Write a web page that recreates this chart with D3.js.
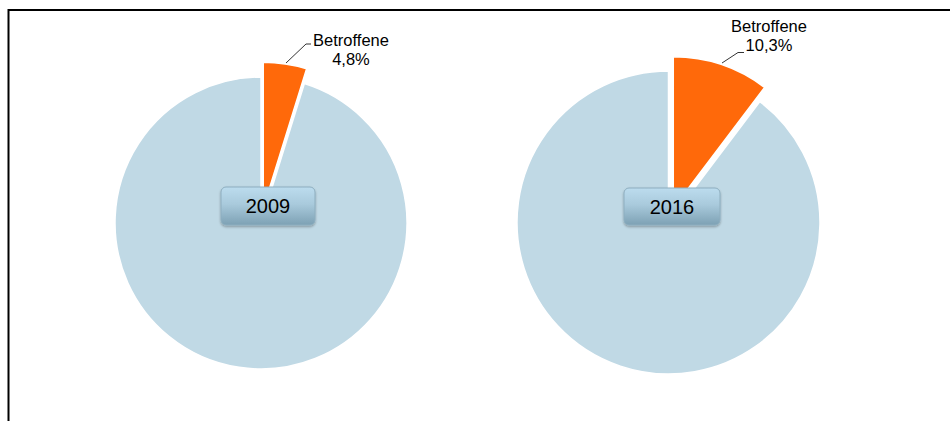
<!DOCTYPE html>
<html>
<head>
<meta charset="utf-8">
<script src="https://cdn.jsdelivr.net/npm/d3@7"></script>
<style>
  html, body { margin: 0; padding: 0; background: #fff; }
  svg { display: block; font-family: "Liberation Sans", Arial, sans-serif; }
</style>
</head>
<body>
<svg id="chart" width="950" height="421"></svg>
<script>
// ---- data ----
const years = ["2009", "2016"];
const betroffenePct = [4.8, 10.3];
const sliceLabel = "Betroffene";
const pctLabels = ["4,8%", "10,3%"];

// ---- layout ----
const W = 950, H = 421;
const pies = [
  { cx: 261, cy: 223, r: 146, box: { x: 221, y: 187, w: 94, h: 38 },
    label: { x: 351, y: 46 }, leader: [[286, 63], [306, 44], [311, 44]] },
  { cx: 668.5, cy: 222.5, r: 151.5, box: { x: 624, y: 188, w: 96, h: 37 },
    label: { x: 769, y: 32 }, leader: [[722, 63], [738, 52.5], [744, 52.5]] }
];
const explode = 15;
const colorMain = "#C0D9E5";
const colorHi = "#FF690A";

const svg = d3.select("#chart");

const defs = svg.append("defs");
const grad = defs.append("linearGradient").attr("id", "boxGrad")
  .attr("x1", 0).attr("y1", 0).attr("x2", 0).attr("y2", 1);
grad.append("stop").attr("offset", "0%").attr("stop-color", "#BCDCEE");
grad.append("stop").attr("offset", "45%").attr("stop-color", "#A9CADC");
grad.append("stop").attr("offset", "100%").attr("stop-color", "#7DA1B4");
const filt = defs.append("filter").attr("id", "shadow")
  .attr("x", "-20%").attr("y", "-20%").attr("width", "140%").attr("height", "160%");
filt.append("feDropShadow").attr("dx", 0).attr("dy", 1.5).attr("stdDeviation", 1.2)
  .attr("flood-color", "#000").attr("flood-opacity", 0.3);

// border
svg.append("path")
  .attr("d", d3.line()([[8.5, H], [8.5, 10], [W, 10]]))
  .attr("fill", "none").attr("stroke", "#000").attr("stroke-width", 2);

const pie = d3.pie().sort(null).value(d => d.v);

years.forEach((yr, i) => {
  const P = pies[i];
  const data = [
    { k: "hi", v: betroffenePct[i] },
    { k: "rest", v: 100 - betroffenePct[i] }
  ];
  const arcs = pie(data);
  const arc = d3.arc().innerRadius(0).outerRadius(P.r);
  const g = svg.append("g").attr("transform", `translate(${P.cx},${P.cy})`);

  g.selectAll("path").data(arcs.slice().reverse()).join("path")
    .attr("d", arc)
    .attr("transform", d => {
      if (d.data.k !== "hi") return null;
      const a = (d.startAngle + d.endAngle) / 2;
      return `translate(${explode * Math.sin(a)},${-explode * Math.cos(a)})`;
    })
    .attr("fill", d => d.data.k === "hi" ? colorHi : colorMain)
    .attr("stroke", "#fff").attr("stroke-width", 1.5)
    .attr("stroke-linejoin", "round");

  // leader line
  svg.append("path")
    .attr("d", d3.line()(P.leader))
    .attr("fill", "none").attr("stroke", "#000").attr("stroke-width", 0.8);

  // label
  const t = svg.append("text").attr("text-anchor", "middle")
    .attr("font-size", 16.5).attr("fill", "#000");
  t.append("tspan").attr("x", P.label.x).attr("y", P.label.y).text(sliceLabel);
  t.append("tspan").attr("x", P.label.x).attr("y", P.label.y + 19).text(pctLabels[i]);

  // year box
  svg.append("rect")
    .attr("x", P.box.x).attr("y", P.box.y)
    .attr("width", P.box.w).attr("height", P.box.h)
    .attr("rx", 5).attr("ry", 5)
    .attr("fill", "url(#boxGrad)")
    .attr("stroke", "#8EAEBF").attr("stroke-width", 1)
    .attr("filter", "url(#shadow)");
  svg.append("text")
    .attr("x", P.box.x + P.box.w / 2)
    .attr("y", P.box.y + P.box.h / 2 + 7)
    .attr("text-anchor", "middle")
    .attr("font-size", 20).attr("fill", "#000")
    .text(yr);
});
</script>
</body>
</html>
